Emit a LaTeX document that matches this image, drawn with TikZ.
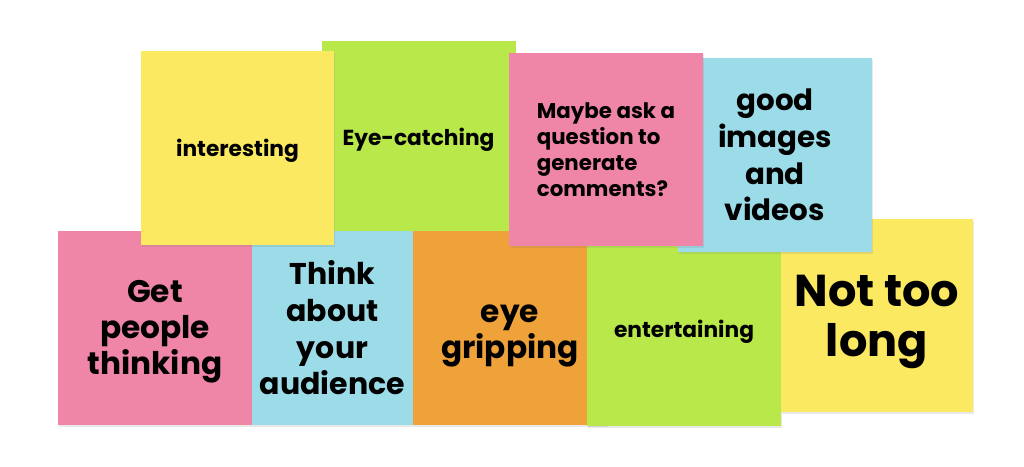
\documentclass[tikz,border=0pt]{standalone}
\usepackage{fontspec}
\setmainfont{Poppins}
\usetikzlibrary{shadows}
\definecolor{noteyellow}{RGB}{251,233,97}
\definecolor{notegreen}{RGB}{185,232,74}
\definecolor{notepink}{RGB}{239,134,168}
\definecolor{noteblue}{RGB}{155,220,232}
\definecolor{noteorange}{RGB}{240,162,58}
\begin{document}
\begin{tikzpicture}[x=0.75pt,y=-0.75pt,
  note/.style={rectangle, inner sep=0pt,
    minimum width=145.5pt, minimum height=145.5pt,
    drop shadow={shadow xshift=0.4pt, shadow yshift=-1.2pt, opacity=0.18}},
  words/.style={inner sep=0pt, align=center, text=black},
  small/.style={words, font=\fontsize{16.3}{19.5}\selectfont\bfseries},
  medium/.style={words, align=left, font=\fontsize{16}{19.6}\selectfont\bfseries},
  large/.style={words, font=\fontsize{22.5}{27.5}\selectfont\bfseries},
  larger/.style={words, font=\fontsize{23.4}{27}\selectfont\bfseries},
  huge/.style={words, font=\fontsize{33.5}{37.5}\selectfont\bfseries}]
\useasboundingbox[fill=white] (0,0) rectangle (1024,467); %page frame

% lowest note
\node[note, fill=notegreen] (eyecatch) at (418.5,138) {};
\node[small] (eyecatchtxt) at ([yshift=-1.5pt]eyecatch.center) {Eye-catching};

% bottom row, left to right
\node[note, fill=notepink] (getpeople) at (155,328) {};
\node[larger] (getpeopletxt) at ([yshift=-3pt]getpeople.center) {Get\\people\\thinking};
\node[note, fill=noteblue, minimum width=120.75pt] (audience) at (332.5,328) {};
\node[large] (audiencetxt) at (audience.center) {Think\\about\\your\\audience};
\node[note, fill=noteorange] (gripping) at (510,328) {};
\node[larger] (grippingtxt) at ([yshift=-6pt]gripping.center) {eye\\gripping};
\node[note, fill=notegreen] (entertain) at (684,329) {};
\node[small] (entertaintxt) at ([yshift=-2.25pt]entertain.center) {entertaining};
\node[note, fill=noteyellow, minimum width=144pt, minimum height=144.75pt] (notlong) at (877,315.5) {};
\node[huge] (notlongtxt) at ([yshift=-4.5pt]notlong.center) {Not too\\long};

% top row
\node[note, fill=noteyellow, minimum width=144.75pt] (interest) at (237.5,148) {};
\node[small] (interesttxt) at ([yshift=-2.25pt]interest.center) {interesting};
\node[note, fill=noteblue] (images) at (775,155) {};
\node[words, font=\fontsize{22}{27.5}\selectfont\bfseries] (imagestxt) at (images.center) {good\\images\\and\\videos};
\node[note, fill=notepink, minimum height=144.75pt] (question) at (606,149.5) {};
\node[medium] (questiontxt) at (question.center) {Maybe ask a\\question to\\generate\\comments?};
\end{tikzpicture}
\end{document}
